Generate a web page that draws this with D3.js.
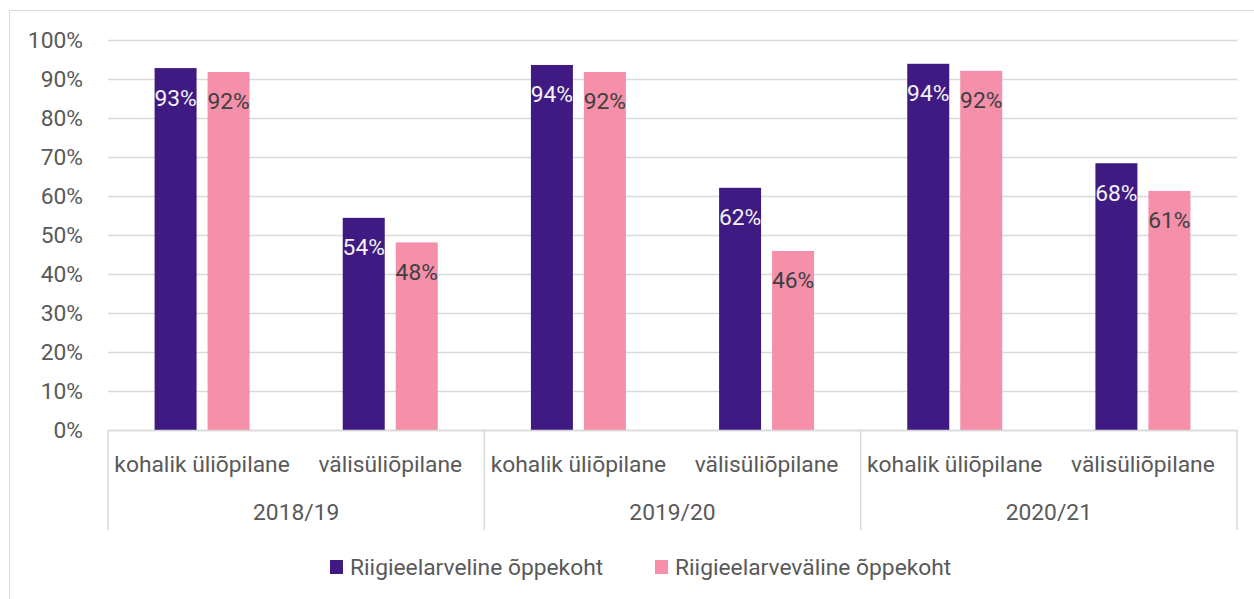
<!DOCTYPE html>
<html>
<head>
<meta charset="utf-8">
<script src="https://cdn.jsdelivr.net/npm/d3@7.9.0/dist/d3.min.js"></script>
<style>
  html, body { margin: 0; padding: 0; background: #fff; }
  svg { display: block; font-family: Roboto, "Noto Sans", sans-serif; }
</style>
</head>
<body>
<svg id="chart" width="1254" height="599"></svg>
<script>
const years = ['2018/19', '2019/20', '2020/21'];
const studentTypes = ['kohalik üliõpilane', 'välisüliõpilane'];
const seriesNames = ['Riigieelarveline õppekoht', 'Riigieelarveväline õppekoht'];
// values per year x student type, in percent
const stateFunded = [92.8, 54.4, 93.6, 62.1, 93.9, 68.4];
const notStateFunded = [91.8, 48.1, 91.8, 45.9, 92.1, 61.3];
const yTicks = [0, 10, 20, 30, 40, 50, 60, 70, 80, 90, 100];

const colors = ['#3f1a82', '#f58faa'];
const labelColors = ['#f2f2f2', '#404040'];
const gridColor = '#d9d9d9';
const textColor = '#595959';
const fontSize = '22.8px';

const width = 1254;
const height = 599;
const margin = { top: 40, right: 17, bottom: 169, left: 108 };
const usable = {
    top: margin.top,
    bottom: height - margin.bottom,
    left: margin.left,
    right: width - margin.right,
};

const svg = d3.select('#chart');

// outer frame
svg.append('rect')
    .attr('x', 9.5).attr('y', 10.5)
    .attr('width', 1400).attr('height', 800)
    .attr('fill', 'none')
    .attr('stroke', gridColor);

const cats = [];
years.forEach((y) => studentTypes.forEach((t) => cats.push(y + '|' + t)));

const x = d3.scaleBand()
    .domain(cats)
    .range([usable.left, usable.right]);

const xGroup = d3.scaleBand()
    .domain(years)
    .range([usable.left, usable.right]);

const xInner = d3.scaleBand()
    .domain([0, 1])
    .range([0, x.bandwidth()])
    .paddingInner(0.2075)
    .paddingOuter(0.879);

const y = d3.scaleLinear()
    .domain([0, 100])
    .range([usable.bottom, usable.top]);

// gridlines
svg.append('g')
    .attr('class', 'gridlines')
    .attr('transform', `translate(${usable.left}, 0)`)
    .call(d3.axisLeft(y).tickValues(yTicks).tickFormat('').tickSize(-(usable.right - usable.left)))
    .call((g) => g.select('.domain').remove())
    .call((g) => g.selectAll('line').attr('stroke', gridColor).attr('stroke-width', 1.5));

// y labels
svg.append('g')
    .attr('transform', `translate(${usable.left}, 0)`)
    .call(d3.axisLeft(y).tickValues(yTicks).tickFormat((d) => d + '%').tickSize(0).tickPadding(25))
    .call((g) => g.select('.domain').remove())
    .call((g) => g.selectAll('text')
        .attr('fill', textColor)
        .style('font-size', fontSize)
        .style('font-family', 'Roboto, sans-serif'));

// bars
const rows = cats.map((c, i) => ({ cat: c, values: [stateFunded[i], notStateFunded[i]] }));

const groups = svg.append('g').attr('class', 'bars')
    .selectAll('g')
    .data(rows)
    .join('g')
    .attr('transform', (d) => `translate(${x(d.cat)}, 0)`);

groups.selectAll('rect')
    .data((d) => d.values.map((v, s) => ({ v, s })))
    .join('rect')
    .attr('x', (d) => xInner(d.s))
    .attr('width', xInner.bandwidth())
    .attr('y', (d) => y(d.v))
    .attr('height', (d) => y(0) - y(d.v))
    .attr('fill', (d) => colors[d.s]);

groups.selectAll('text')
    .data((d) => d.values.map((v, s) => ({ v, s })))
    .join('text')
    .attr('x', (d) => xInner(d.s) + xInner.bandwidth() / 2)
    .attr('y', (d) => y(d.v) + 37.5)
    .attr('text-anchor', 'middle')
    .attr('fill', (d) => labelColors[d.s])
    .style('font-size', fontSize)
    .text((d) => Math.round(d.v) + '%');

// category axis
const axisG = svg.append('g').attr('class', 'cat-axis');

axisG.append('line')
    .attr('x1', usable.left).attr('x2', usable.right)
    .attr('y1', usable.bottom + 0.5).attr('y2', usable.bottom + 0.5)
    .attr('stroke', gridColor).attr('stroke-width', 1.5);

const bounds = years.map((yr) => xGroup(yr)).concat([usable.right]);
axisG.selectAll('line.sep')
    .data(bounds)
    .join('line')
    .attr('class', 'sep')
    .attr('x1', (d) => d).attr('x2', (d) => d)
    .attr('y1', usable.bottom).attr('y2', 530)
    .attr('stroke', gridColor).attr('stroke-width', 1.5);

axisG.selectAll('text.cat')
    .data(cats)
    .join('text')
    .attr('class', 'cat')
    .attr('x', (d) => x(d) + x.bandwidth() / 2)
    .attr('y', 472)
    .attr('text-anchor', 'middle')
    .attr('fill', textColor)
    .style('font-size', fontSize)
    .text((d) => d.split('|')[1]);

axisG.selectAll('text.year')
    .data(years)
    .join('text')
    .attr('class', 'year')
    .attr('x', (d) => xGroup(d) + xGroup.bandwidth() / 2)
    .attr('y', 520)
    .attr('text-anchor', 'middle')
    .attr('fill', textColor)
    .style('font-size', fontSize)
    .text((d) => d);

// legend
const legendX = [330, 655];
const legend = svg.append('g').attr('class', 'legend')
    .selectAll('g')
    .data(seriesNames)
    .join('g')
    .attr('transform', (d, i) => `translate(${legendX[i]}, 567)`);

legend.append('rect')
    .attr('x', 0).attr('y', -7)
    .attr('width', 13).attr('height', 14)
    .attr('fill', (d, i) => colors[i]);

legend.append('text')
    .attr('x', 20).attr('y', 8)
    .attr('fill', textColor)
    .style('font-size', fontSize)
    .text((d) => d);
</script>
</body>
</html>
